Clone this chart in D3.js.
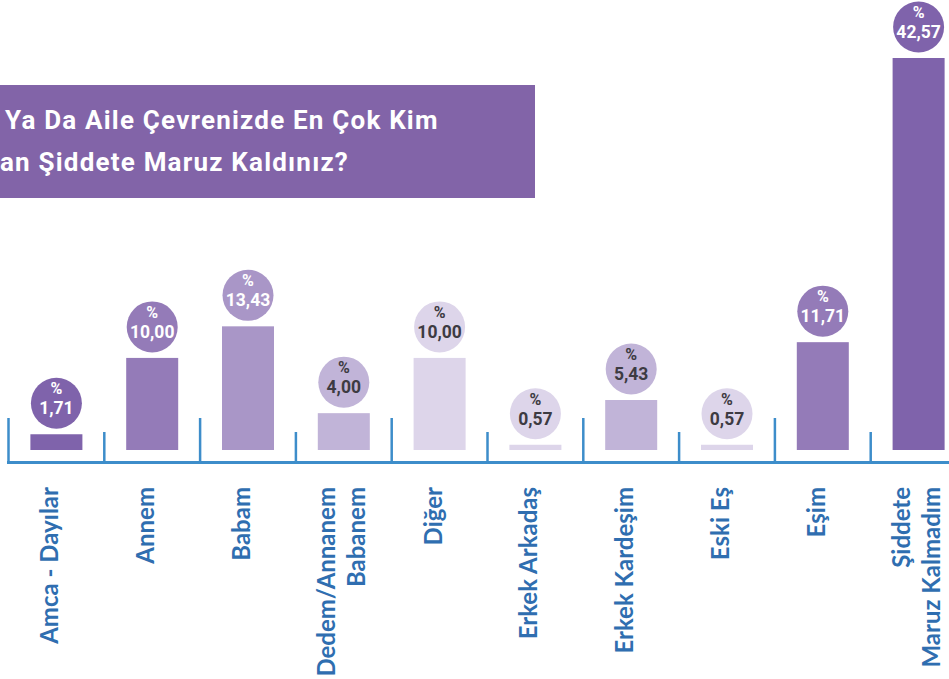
<!DOCTYPE html>
<html>
<head>
<meta charset="utf-8">
<script src="https://cdn.jsdelivr.net/npm/d3@7"></script>
<style>
  html, body { margin: 0; padding: 0; background: #fff; overflow: hidden; }
  svg { display: block; }
</style>
</head>
<body>
<svg id="chart"></svg>
<script>
const width = 949;
const height = 679;

// data
const categories = ["Amca - Dayılar", "Annem", "Babam", "Dedem/Annanem Babanem", "Diğer",
  "Erkek Arkadaş", "Erkek Kardeşim", "Eski Eş", "Eşim", "Şiddete Maruz Kalmadım"];
const labelLines = [["Amca - Dayılar"], ["Annem"], ["Babam"], ["Dedem/Annanem", "Babanem"], ["Diğer"],
  ["Erkek Arkadaş"], ["Erkek Kardeşim"], ["Eski Eş"], ["Eşim"], ["Şiddete", "Maruz Kalmadım"]];
const values = [1.71, 10.00, 13.43, 4.00, 10.00, 0.57, 5.43, 0.57, 11.71, 42.57];
const titleLines = ["Ya Da Aile Çevrenizde En Çok Kim", "an Şiddete Maruz Kaldınız?"];

// shade per bar (dark -> light), text colour depends on it
const shades = ["#7f63ab", "#947bb8", "#a996c7", "#c1b4d8", "#ddd5ea"];
const shadeIndex = [0, 1, 2, 3, 4, 4, 3, 4, 1, 0];

const axisBlue = "#3d8dca";
const labelBlue = "#2f6eb0";

const svg = d3.select('#chart').attr('width', width).attr('height', height);

const baseY = 450;
const barW = 52;

const x = d3.scaleBand()
    .domain(categories)
    .range([8.5, 8.5 + 95.8 * categories.length])
    .padding(0);

const y = d3.scaleLinear()
    .domain([0, d3.max(values)])
    .range([baseY, 58]);

const fmt = v => d3.format(".2f")(v).replace(".", ",");

// title box
svg.append("rect")
    .attr("x", -10).attr("y", 85)
    .attr("width", 545).attr("height", 113)
    .attr("fill", "#8264a8");

const title = svg.append("g")
    .attr("font-family", "Roboto, sans-serif")
    .attr("font-weight", "bold")
    .attr("font-size", 26)
    .attr("letter-spacing", 1.2)
    .attr("fill", "#fff");
title.append("text").attr("x", 5).attr("y", 129).text(titleLines[0]);
title.append("text").attr("x", 0).attr("y", 171).text(titleLines[1]);

// bars
svg.append("g").selectAll("rect")
    .data(categories)
    .enter().append("rect")
    .attr("x", d => x(d) + (x.bandwidth() - barW) / 2)
    .attr("y", (d, i) => y(values[i]))
    .attr("width", barW)
    .attr("height", (d, i) => baseY - y(values[i]))
    .attr("fill", (d, i) => shades[shadeIndex[i]]);

// value bubbles
const bubbles = svg.append("g").selectAll("g")
    .data(categories)
    .enter().append("g")
    .attr("transform", (d, i) => `translate(${x(d) + x.bandwidth() / 2},${y(values[i]) - 31})`);

bubbles.append("circle")
    .attr("r", 25.5)
    .attr("fill", (d, i) => shades[shadeIndex[i]]);

bubbles.append("text")
    .attr("text-anchor", "middle")
    .attr("y", -9)
    .attr("font-family", "Roboto, sans-serif")
    .attr("font-weight", "bold")
    .attr("font-size", 16)
    .attr("fill", (d, i) => shadeIndex[i] < 3 ? "#fff" : "#3d3b42")
    .text("%");

bubbles.append("text")
    .attr("text-anchor", "middle")
    .attr("y", 11)
    .attr("font-family", "Roboto, sans-serif")
    .attr("font-weight", "bold")
    .attr("font-size", 17.5)
    .attr("fill", (d, i) => shadeIndex[i] < 3 ? "#fff" : "#3d3b42")
    .text((d, i) => fmt(values[i]));

// axis line + alternating ticks
const axis = svg.append("g");
axis.append("line")
    .attr("x1", x.range()[0] - 1.5).attr("x2", width + 5)
    .attr("y1", 462.5).attr("y2", 462.5)
    .attr("stroke", axisBlue).attr("stroke-width", 3);

axis.selectAll(".tick")
    .data(categories)
    .enter().append("line")
    .attr("class", "tick")
    .attr("x1", d => x(d)).attr("x2", d => x(d))
    .attr("y1", (d, i) => i % 2 === 0 ? 418 : 432)
    .attr("y2", 462.5)
    .attr("stroke", axisBlue).attr("stroke-width", 2.5);

// category labels, rotated
const labels = svg.append("g").selectAll("text")
    .data(categories)
    .enter().append("text")
    .attr("transform", d => `translate(${x(d) + x.bandwidth() / 2},487) rotate(-90)`)
    .attr("text-anchor", "end")
    .attr("font-family", "Lato, sans-serif")
    .attr("font-weight", "bold")
    .attr("font-size", 24)
    .attr("fill", labelBlue);

labels.each(function (d, i) {
  const lines = labelLines[i];
  const offs = lines.length === 1 ? [2] : [-9, 21];
  d3.select(this).selectAll("tspan")
      .data(lines)
      .enter().append("tspan")
      .attr("x", 0)
      .attr("y", (l, j) => offs[j])
      .text(l => l);
});
</script>
</body>
</html>
